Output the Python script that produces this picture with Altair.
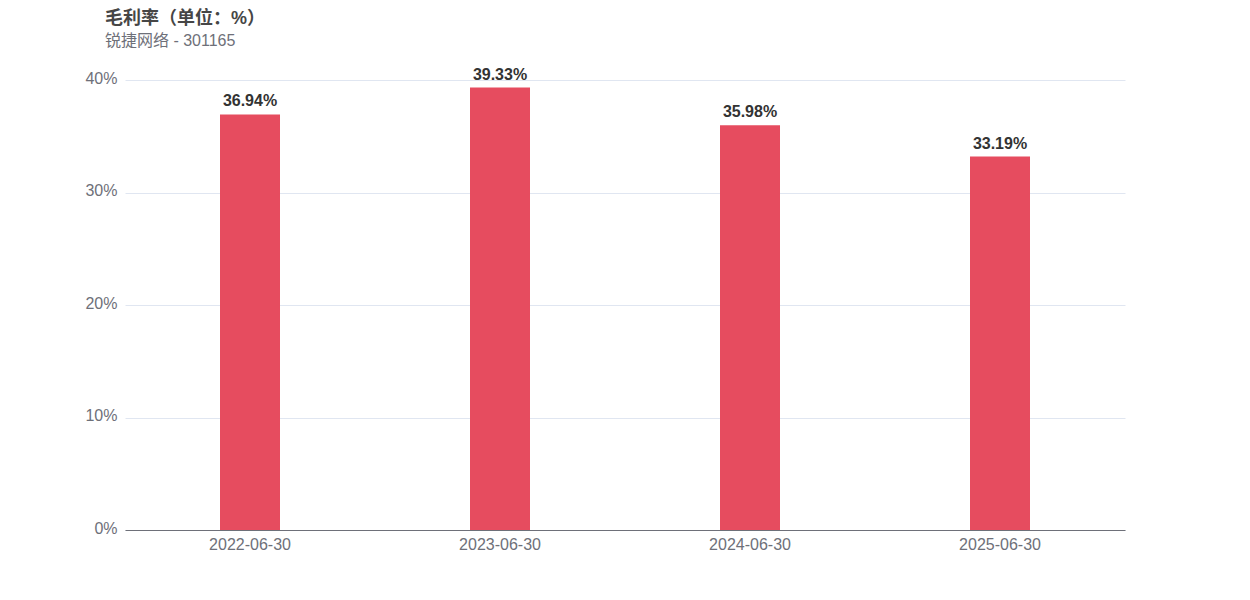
import altair as alt
import pandas as pd

dates = ["2022-06-30", "2023-06-30", "2024-06-30", "2025-06-30"]
values = [36.94, 39.33, 35.98, 33.19]

df = pd.DataFrame({"date": dates, "value": values})
df["label"] = [f"{v:.2f}%" for v in values]

FONT = "Liberation Sans, Noto Sans CJK SC, sans-serif"

x = alt.X("date:N", title=None, sort=None,
          scale=alt.Scale(paddingInner=0.76, paddingOuter=0.38),
          axis=alt.Axis(labelAngle=0, ticks=False, domainColor="#6e7079",
                        labelColor="#6e7079", labelFontSize=16, labelFont=FONT,
                        labelPadding=6, grid=False))
y = alt.Y("value:Q", title=None,
          scale=alt.Scale(domain=[0, 40], nice=False),
          axis=alt.Axis(values=[0, 10, 20, 30, 40], labelExpr="datum.value + '%'",
                        ticks=False, domain=False, labelColor="#6e7079",
                        labelFontSize=16, labelFont=FONT, labelPadding=8,
                        labelOffset=-2,
                        gridColor="#e0e6f1", gridWidth=1))

bars = alt.Chart(df).mark_bar(color="#e64c5f").encode(x=x, y=y)
text = alt.Chart(df).mark_text(dy=-5, baseline="bottom", fontSize=16,
                               fontWeight="bold", color="#333333", font=FONT).encode(
    x=alt.X("date:N", sort=None), y="value:Q", text="label:N")

chart = (bars + text).properties(
    width=1000, height=450,
    title=alt.TitleParams(text="毛利率（单位：%）", subtitle="锐捷网络 - 301165",
                          anchor="start", dx=20, fontSize=18, fontWeight="bold",
                          color="#464646", subtitleFontSize=16,
                          subtitleColor="#6e7079", font=FONT, subtitleFont=FONT,
                          subtitlePadding=5, offset=18),
    autosize=alt.AutoSizeParams(type="none"),
    padding={"left": 117, "top": 72, "right": 117, "bottom": 62},
).configure_view(stroke=None)

chart.save("out.html", embed_options={"renderer": "svg", "actions": False})
